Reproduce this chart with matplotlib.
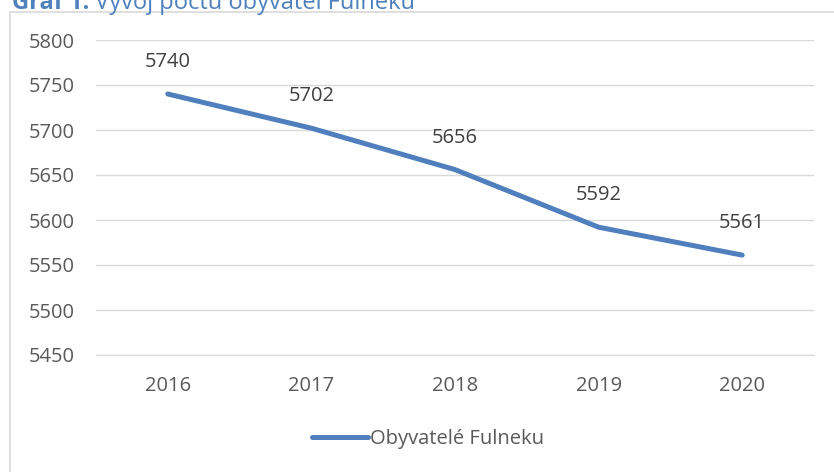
import matplotlib
matplotlib.use("Agg")
import matplotlib.pyplot as plt
from matplotlib.patches import Rectangle
from matplotlib.lines import Line2D
from matplotlib.text import Annotation

years = ["2016", "2017", "2018", "2019", "2020"]
population = [5740, 5702, 5656, 5592, 5561]
yticks = [5450, 5500, 5550, 5600, 5650, 5700, 5750, 5800]
series_name = "Obyvatelé Fulneku"

W, H = 834, 472
fig = plt.figure(figsize=(W / 100, H / 100), dpi=100)
plt.rcParams['font.family'] = ['Open Sans', 'DejaVu Sans']

# chart border
fig.patches.append(Rectangle((10 / W, -0.1), 1.0, (H - 12) / H + 0.1, transform=fig.transFigure,
                             fill=False, edgecolor="#d9d9d9", linewidth=1.2))

ax = fig.add_axes([96 / W, (H - 355) / H, (814 - 96) / W, (355 - 40) / H])
x = list(range(len(years)))
ax.plot(x, population, color="#4f7fbd", linewidth=3.6, solid_capstyle="round")
for xi, v in zip(x, population):
    ax.annotate(str(v), (xi, v), xytext=(0, 23), textcoords="offset points",
                ha="center", va="center", fontsize=14.5, color="#404040")

ax.set_xlim(-0.5, len(years) - 0.5)
ax.set_ylim(5450, 5800)
ax.set_yticks(yticks)
ax.set_xticks(x)
ax.set_xticklabels(years)
ax.tick_params(axis="both", length=0, labelsize=14.5, labelcolor="#595959")
ax.tick_params(axis="y", pad=15)
ax.tick_params(axis="x", pad=15)
ax.grid(axis="y", color="#d9d9d9", linewidth=1)
ax.set_axisbelow(True)
for s in ["top", "right", "left"]:
    ax.spines[s].set_visible(False)
ax.spines["bottom"].set_color("#d9d9d9")

handle = Line2D([], [], color="#4f7fbd", linewidth=3.6, solid_capstyle="round")
fig.legend([handle], [series_name], loc="center", bbox_to_anchor=(428 / W, 1 - 439 / H),
           frameon=False, fontsize=14.5, handlelength=2.8, handletextpad=0.1,
           labelcolor="#595959")

t1 = fig.text(12 / W, 1 - 9 / H, "Graf 1:", fontsize=17, fontweight="bold", color="#4f81bd",
              ha="left", va="baseline")
fig.add_artist(Annotation(" Vývoj počtu obyvatel Fulneku", xy=(1, 0), xycoords=t1,
                          xytext=(0, 0), textcoords="offset points",
                          fontsize=17, color="#4f81bd", ha="left", va="bottom"))

fig.savefig("out.png", dpi=100)
